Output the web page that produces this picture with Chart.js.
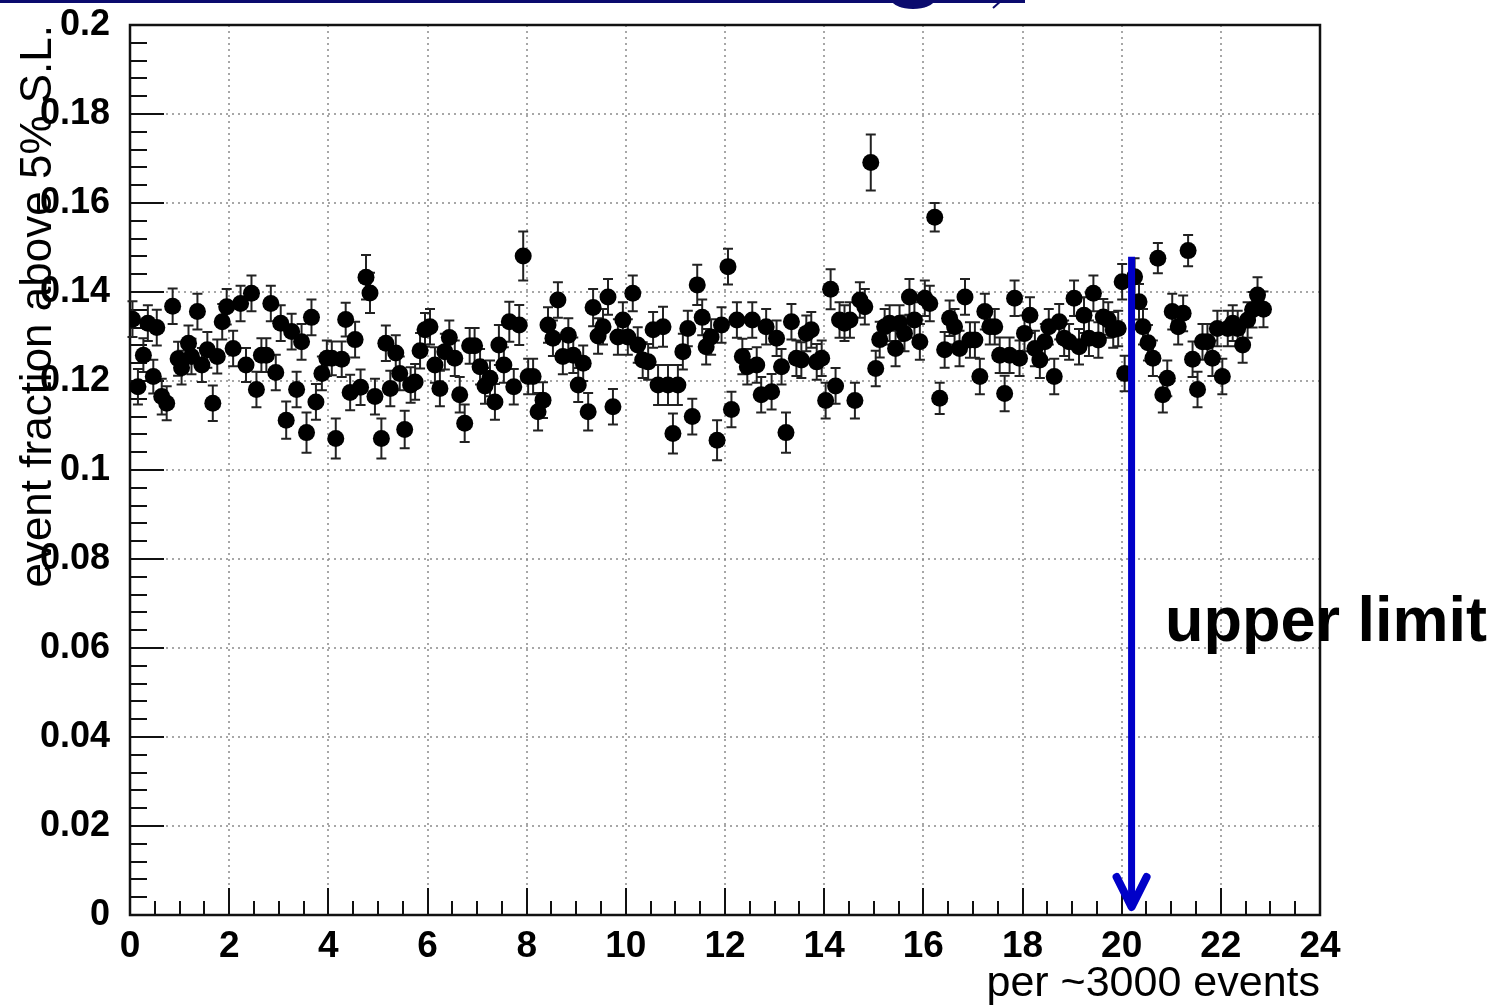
<!DOCTYPE html>
<html>
<head>
<meta charset="utf-8">
<script src="https://cdn.jsdelivr.net/npm/chart.js@4/dist/chart.umd.min.js"></script>
<style>
html, body { margin: 0; padding: 0; background: #fff; overflow: hidden; }
#wrap { position: relative; width: 1499px; height: 1006px; }
</style>
</head>
<body>
<div id="wrap"><canvas id="chart" width="1499" height="1006"></canvas></div>
<script>
var xValues = [
    0.05, 0.16, 0.27, 0.36, 0.47, 0.54, 0.64, 0.74, 0.86, 0.97,
    1.04, 1.18, 1.24, 1.36, 1.45, 1.56, 1.67, 1.76, 1.86, 1.95,
    2.08, 2.23, 2.34, 2.45, 2.55, 2.65, 2.75, 2.84, 2.94, 3.04,
    3.15, 3.26, 3.36, 3.46, 3.56, 3.66, 3.75, 3.87, 3.97, 4.07,
    4.15, 4.27, 4.35, 4.44, 4.54, 4.65, 4.76, 4.84, 4.94, 5.07,
    5.16, 5.25, 5.36, 5.44, 5.54, 5.66, 5.75, 5.85, 5.95, 6.05,
    6.15, 6.25, 6.35, 6.44, 6.55, 6.65, 6.75, 6.85, 6.95, 7.06,
    7.16, 7.26, 7.36, 7.44, 7.54, 7.65, 7.74, 7.85, 7.93, 8.03,
    8.13, 8.23, 8.33, 8.43, 8.53, 8.63, 8.73, 8.84, 8.94, 9.04,
    9.14, 9.24, 9.34, 9.44, 9.54, 9.64, 9.74, 9.84, 9.94, 10.04,
    10.14, 10.24, 10.34, 10.45, 10.55, 10.65, 10.75, 10.85, 10.95, 11.05,
    11.15, 11.25, 11.34, 11.44, 11.54, 11.62, 11.72, 11.84, 11.93, 12.06,
    12.13, 12.24, 12.35, 12.45, 12.55, 12.64, 12.73, 12.83, 12.94, 13.04,
    13.14, 13.23, 13.34, 13.44, 13.54, 13.64, 13.74, 13.85, 13.95, 14.03,
    14.13, 14.23, 14.31, 14.41, 14.52, 14.62, 14.72, 14.82, 14.94, 15.04,
    15.12, 15.22, 15.32, 15.44, 15.52, 15.62, 15.72, 15.82, 15.93, 16.03,
    16.13, 16.23, 16.33, 16.43, 16.53, 16.63, 16.73, 16.84, 16.94, 17.04,
    17.14, 17.24, 17.34, 17.44, 17.54, 17.64, 17.74, 17.84, 17.94, 18.04,
    18.15, 18.25, 18.35, 18.45, 18.53, 18.64, 18.74, 18.84, 18.94, 19.04,
    19.14, 19.24, 19.34, 19.43, 19.53, 19.63, 19.73, 19.83, 19.93, 20.01,
    20.06, 20.26, 20.35, 20.43, 20.53, 20.63, 20.73, 20.83, 20.92, 21.02,
    21.14, 21.24, 21.34, 21.43, 21.53, 21.63, 21.73, 21.83, 21.93, 22.03,
    22.14, 22.24, 22.34, 22.44, 22.54, 22.64, 22.74, 22.86
];
var yValues = [
    0.1339, 0.1187, 0.1258, 0.1330, 0.1210, 0.1320, 0.1165, 0.1150, 0.1368, 0.1250,
    0.1230, 0.1285, 0.1255, 0.1356, 0.1236, 0.1270, 0.1150, 0.1255, 0.1333, 0.1367,
    0.1273, 0.1374, 0.1236, 0.1397, 0.1181, 0.1258, 0.1258, 0.1374, 0.1219, 0.1330,
    0.1112, 0.1311, 0.1181, 0.1288, 0.1084, 0.1343, 0.1153, 0.1217, 0.1251, 0.1251,
    0.1071, 0.1249, 0.1338, 0.1174, 0.1293, 0.1186, 0.1433, 0.1398, 0.1165, 0.1071,
    0.1285, 0.1183, 0.1263, 0.1217, 0.1091, 0.1191, 0.1198, 0.1268, 0.1315, 0.1322,
    0.1236, 0.1183, 0.1266, 0.1298, 0.1251, 0.1169, 0.1105, 0.1279, 0.1279, 0.1232,
    0.1189, 0.1206, 0.1153, 0.1281, 0.1236, 0.1333, 0.1187, 0.1326, 0.1481, 0.1210,
    0.1210, 0.1131, 0.1157, 0.1326, 0.1296, 0.1382, 0.1255, 0.1303, 0.1258, 0.1191,
    0.1240, 0.1131, 0.1365, 0.1301, 0.1322, 0.1389, 0.1142, 0.1299, 0.1337, 0.1299,
    0.1397, 0.1281, 0.1247, 0.1243, 0.1315, 0.1191, 0.1322, 0.1191, 0.1082, 0.1191,
    0.1266, 0.1318, 0.1120, 0.1416, 0.1343, 0.1277, 0.1299, 0.1067, 0.1326, 0.1457,
    0.1136, 0.1337, 0.1255, 0.1232, 0.1337, 0.1236, 0.1169, 0.1322, 0.1176, 0.1296,
    0.1232, 0.1084, 0.1333, 0.1251, 0.1247, 0.1307, 0.1315, 0.1243, 0.1251, 0.1156,
    0.1406, 0.1189, 0.1337, 0.1330, 0.1337, 0.1156, 0.1382, 0.1367, 0.1691, 0.1228,
    0.1293, 0.1322, 0.1330, 0.1273, 0.1330, 0.1307, 0.1389, 0.1337, 0.1288, 0.1386,
    0.1374, 0.1568, 0.1161, 0.1270, 0.1341, 0.1322, 0.1273, 0.1389, 0.1292, 0.1292,
    0.1210, 0.1356, 0.1322, 0.1322, 0.1258, 0.1172, 0.1258, 0.1386, 0.1251, 0.1307,
    0.1348, 0.1273, 0.1247, 0.1288, 0.1322, 0.1210, 0.1333, 0.1296, 0.1288, 0.1386,
    0.1277, 0.1348, 0.1296, 0.1397, 0.1292, 0.1344, 0.1337, 0.1315, 0.1318, 0.1423,
    0.1217, 0.1434, 0.1378, 0.1322, 0.1286, 0.1251, 0.1476, 0.1169, 0.1206, 0.1356,
    0.1322, 0.1352, 0.1493, 0.1249, 0.1181, 0.1288, 0.1288, 0.1251, 0.1318, 0.1210,
    0.1318, 0.1330, 0.1318, 0.1281, 0.1337, 0.1360, 0.1393, 0.1361
];
// half length of each error bar
var yErrors = [
    0.004, 0.004, 0.0038, 0.004, 0.0038, 0.004, 0.004, 0.0038, 0.004, 0.0038,
    0.0038, 0.004, 0.004, 0.004, 0.0038, 0.004, 0.004, 0.0038, 0.004, 0.004,
    0.004, 0.004, 0.0038, 0.004, 0.004, 0.0038, 0.0038, 0.004, 0.004, 0.004,
    0.0042, 0.004, 0.004, 0.004, 0.0045, 0.004, 0.004, 0.0038, 0.004, 0.0038,
    0.0045, 0.004, 0.0038, 0.004, 0.004, 0.004, 0.005, 0.0045, 0.004, 0.0045,
    0.004, 0.004, 0.004, 0.0038, 0.0042, 0.004, 0.004, 0.004, 0.0038, 0.004,
    0.004, 0.004, 0.004, 0.0038, 0.004, 0.004, 0.0042, 0.004, 0.004, 0.004,
    0.004, 0.004, 0.004, 0.0045, 0.004, 0.0045, 0.004, 0.0045, 0.0055, 0.004,
    0.004, 0.0042, 0.004, 0.004, 0.004, 0.004, 0.004, 0.0038, 0.004, 0.0038,
    0.004, 0.0042, 0.0042, 0.004, 0.004, 0.004, 0.004, 0.004, 0.004, 0.004,
    0.004, 0.004, 0.004, 0.004, 0.004, 0.0045, 0.0045, 0.0045, 0.0045, 0.0045,
    0.004, 0.004, 0.004, 0.0045, 0.004, 0.004, 0.004, 0.0045, 0.004, 0.004,
    0.004, 0.004, 0.004, 0.004, 0.004, 0.004, 0.004, 0.004, 0.004, 0.004,
    0.004, 0.0045, 0.004, 0.004, 0.004, 0.004, 0.004, 0.004, 0.004, 0.004,
    0.0045, 0.004, 0.004, 0.004, 0.004, 0.004, 0.004, 0.004, 0.0063, 0.004,
    0.004, 0.004, 0.004, 0.004, 0.004, 0.004, 0.004, 0.004, 0.004, 0.004,
    0.004, 0.0032, 0.0035, 0.004, 0.004, 0.004, 0.004, 0.004, 0.004, 0.004,
    0.004, 0.004, 0.004, 0.004, 0.004, 0.004, 0.004, 0.004, 0.004, 0.004,
    0.004, 0.004, 0.004, 0.004, 0.004, 0.004, 0.004, 0.004, 0.004, 0.004,
    0.004, 0.004, 0.004, 0.004, 0.004, 0.004, 0.004, 0.004, 0.004, 0.004,
    0.004, 0.0042, 0.004, 0.004, 0.004, 0.004, 0.0034, 0.004, 0.004, 0.004,
    0.004, 0.004, 0.0035, 0.004, 0.004, 0.004, 0.004, 0.004, 0.004, 0.004,
    0.004, 0.004, 0.004, 0.004, 0.004, 0.004, 0.004, 0.004
];

// axes
var xRange = [0, 24];
var yRange = [0, 0.2];
var xStep = 2, xMinorStep = 0.5;
var yStep = 0.02, yMinorStep = 0.004;

// annotation: the upper limit arrow
var limitX = 20.2;
var limitFrom = 0.1479;
var limitTo = 0.0018;
var limitLabel = 'upper limit';

var xTitle = 'per ~3000 events';
var yTitle = 'event fraction above 5% S.L.';

var points = xValues.map(function (x, i) { return { x: x, y: yValues[i] }; });

// grid, inward ticks, frame and error bars (drawn under the markers)
var rootFrame = {
    id: 'rootFrame',
    beforeDatasetsDraw: function (chart) {
        var ctx = chart.ctx, ca = chart.chartArea;
        var sx = chart.scales.x, sy = chart.scales.y;
        var i, v, p;
        ctx.save();

        // dotted grid
        ctx.strokeStyle = '#8a8a8a';
        ctx.lineWidth = 1.5;
        ctx.setLineDash([2, 4]);
        ctx.beginPath();
        sx.ticks.forEach(function (t) {
            p = Math.round(sx.getPixelForValue(t.value));
            ctx.moveTo(p, ca.top); ctx.lineTo(p, ca.bottom);
        });
        sy.ticks.forEach(function (t) {
            p = Math.round(sy.getPixelForValue(t.value));
            ctx.moveTo(ca.left, p); ctx.lineTo(ca.right, p);
        });
        ctx.stroke();
        ctx.setLineDash([]);

        // ticks pointing into the plot
        ctx.strokeStyle = '#111';
        ctx.lineWidth = 2;
        ctx.beginPath();
        for (i = 0; i * xMinorStep <= xRange[1] + 1e-9; i++) {
            v = i * xMinorStep;
            p = Math.round(sx.getPixelForValue(v));
            var major = Math.abs(v / xStep - Math.round(v / xStep)) < 1e-6;
            ctx.moveTo(p, ca.bottom); ctx.lineTo(p, ca.bottom - (major ? 27 : 14));
        }
        for (i = 0; i * yMinorStep <= yRange[1] + 1e-9; i++) {
            v = i * yMinorStep;
            p = Math.round(sy.getPixelForValue(v));
            var majorY = Math.abs(v / yStep - Math.round(v / yStep)) < 1e-6;
            ctx.moveTo(ca.left, p); ctx.lineTo(ca.left + (majorY ? 34 : 17), p);
        }
        ctx.stroke();

        // frame
        ctx.lineWidth = 2.5;
        ctx.strokeRect(ca.left, ca.top, ca.right - ca.left, ca.bottom - ca.top);

        // error bars
        ctx.strokeStyle = '#222';
        ctx.lineWidth = 2;
        ctx.beginPath();
        for (i = 0; i < xValues.length; i++) {
            var px = sx.getPixelForValue(xValues[i]);
            var top = sy.getPixelForValue(yValues[i] + yErrors[i]);
            var bot = sy.getPixelForValue(yValues[i] - yErrors[i]);
            ctx.moveTo(px, top); ctx.lineTo(px, bot);
            ctx.moveTo(px - 5, top); ctx.lineTo(px + 5, top);
            ctx.moveTo(px - 5, bot); ctx.lineTo(px + 5, bot);
        }
        ctx.stroke();
        ctx.restore();
    },
    afterDraw: function (chart) {
        var ctx = chart.ctx;
        var sx = chart.scales.x, sy = chart.scales.y;
        ctx.save();

        // slide header remnant at the very top
        ctx.fillStyle = '#0b0b6e';
        ctx.fillRect(0, 0, 1025, 3);
        ctx.beginPath();
        ctx.ellipse(913, 0, 21, 9, 0, 0, Math.PI * 2);
        ctx.fill();
        ctx.strokeStyle = '#0b0b6e';
        ctx.lineWidth = 2;
        ctx.beginPath();
        ctx.moveTo(1002, 0); ctx.lineTo(993, 8);
        ctx.stroke();

        // upper limit arrow
        var ax = sx.getPixelForValue(limitX);
        var y0 = sy.getPixelForValue(limitFrom);
        var y1 = sy.getPixelForValue(limitTo);
        ctx.strokeStyle = '#0000c8';
        ctx.lineWidth = 7;
        ctx.beginPath();
        ctx.moveTo(ax, y0); ctx.lineTo(ax, y1 - 4);
        ctx.stroke();
        ctx.lineWidth = 8;
        ctx.lineCap = 'round';
        ctx.lineJoin = 'round';
        ctx.beginPath();
        ctx.moveTo(ax - 15, y1 - 30); ctx.lineTo(ax, y1); ctx.lineTo(ax + 15, y1 - 30);
        ctx.stroke();

        ctx.fillStyle = '#000';
        ctx.font = 'bold 63px "Liberation Sans", Arial, sans-serif';
        ctx.textAlign = 'left';
        ctx.textBaseline = 'alphabetic';
        ctx.fillText(limitLabel, 1165, 641);
        ctx.restore();
    }
};

var ctx = document.getElementById('chart');

var myChart = new Chart(ctx, {
    type: 'scatter',
    data: {
        datasets: [{
            data: points,
            backgroundColor: '#000',
            borderColor: '#000',
            borderWidth: 0,
            pointRadius: 8.5,
            pointHoverRadius: 8.5
        }]
    },
    options: {
        responsive: false,
        animation: false,
        devicePixelRatio: 1,
        layout: { padding: { top: 25, right: 179, left: 0, bottom: 0 } },
        plugins: { legend: { display: false }, tooltip: { enabled: false } },
        scales: {
            x: {
                type: 'linear',
                min: xRange[0],
                max: xRange[1],
                grid: { display: false },
                border: { display: false },
                ticks: {
                    stepSize: xStep,
                    maxRotation: 0,
                    autoSkip: false,
                    padding: 2,
                    color: '#000',
                    font: { family: '"Liberation Sans", Arial, sans-serif', size: 37, weight: 'bold' }
                },
                title: {
                    display: true,
                    text: xTitle,
                    align: 'end',
                    color: '#000',
                    padding: { top: 0, bottom: 0 },
                    font: { family: '"Liberation Sans", Arial, sans-serif', size: 43, lineHeight: 1 }
                },
                afterFit: function (scale) { scale.height = 91; }
            },
            y: {
                type: 'linear',
                min: yRange[0],
                max: yRange[1],
                grid: { display: false },
                border: { display: false },
                ticks: {
                    stepSize: yStep,
                    padding: 12,
                    color: '#000',
                    font: { family: '"Liberation Sans", Arial, sans-serif', size: 36, weight: 'bold', lineHeight: 0.65 },
                    callback: function (v) { return String(+v.toFixed(3)); }
                },
                title: {
                    display: true,
                    text: yTitle,
                    align: 'end',
                    color: '#000',
                    padding: { top: 17, bottom: 0 },
                    font: { family: '"Liberation Sans", Arial, sans-serif', size: 44, lineHeight: 1 }
                },
                afterFit: function (scale) { scale.width = 130; }
            }
        }
    },
    plugins: [rootFrame]
});
</script>
</body>
</html>
